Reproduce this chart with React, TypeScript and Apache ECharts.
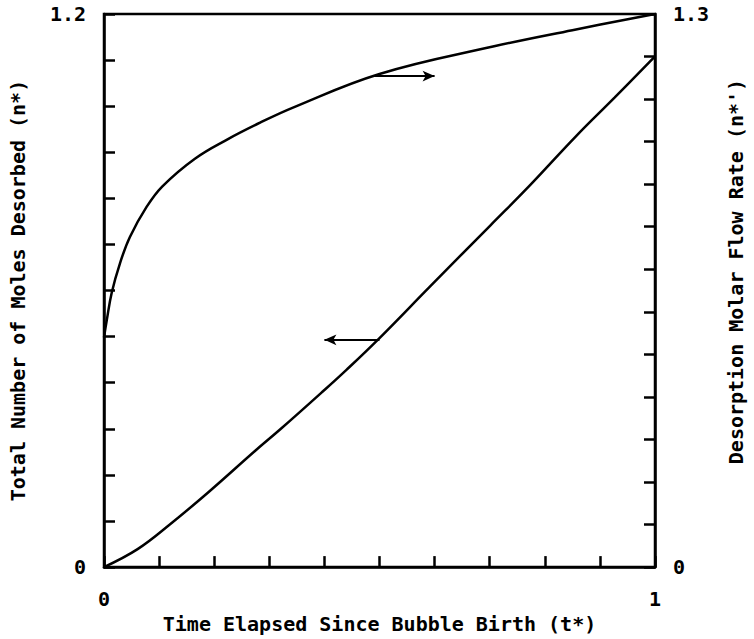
import React, { useEffect, useRef } from "react";
import * as echarts from "echarts";

// Time elapsed since bubble birth (t*)
const molesT = [0, 0.061, 0.12, 0.19, 0.275, 0.32, 0.397, 0.44, 0.5, 0.591, 0.701, 0.772, 0.856, 0.927, 1.0];
// Total number of moles desorbed (n*) — left axis
const molesN = [0, 0.039, 0.093, 0.163, 0.253, 0.299, 0.381, 0.428, 0.497, 0.608, 0.741, 0.827, 0.934, 1.019, 1.108];

const rateT = [0, 0.005, 0.014, 0.029, 0.047, 0.077, 0.106, 0.165, 0.225, 0.284, 0.343, 0.5, 0.708, 0.85, 1.0];
// Desorption molar flow rate (n*') — right axis
const rateN = [0.54, 0.58, 0.645, 0.714, 0.776, 0.846, 0.895, 0.96, 1.006, 1.045, 1.08, 1.159, 1.224, 1.262, 1.3];

// arrows: [x0, y0, x1, y1]
const leftArrow = [0.5, 0.493, 0.4, 0.493];
const rightArrow = [0.49, 1.154, 0.6, 1.154];

const xLabels = ["0", "1"];
const leftLabels = ["0", "1.2"];
const rightLabels = ["0", "1.3"];

const FONT = "DejaVu Sans Mono";
const FS = 20;

function near(v: number, t: number) {
  return Math.abs(v - t) < 1e-6;
}

export default function App() {
  const ref = useRef<HTMLDivElement>(null);
  useEffect(() => {
    if (!ref.current) return;
    const chart = echarts.init(ref.current, null, { renderer: "svg" });
    const axisLine = { show: true, lineStyle: { color: "#000", width: 2.5 } };
    const axisTick = { show: true, inside: true, length: 11, lineStyle: { color: "#000", width: 2.5 } };
    const labelStyle = { color: "#000", fontFamily: FONT, fontWeight: "bold" as const, fontSize: FS };
    const arrowLine = {
      silent: true,
      symbol: ["none", "arrow"],
      symbolSize: [8, 12],
      label: { show: false },
      lineStyle: { color: "#000", width: 2, type: "solid" },
    };
    chart.setOption({
      animation: false,
      backgroundColor: "#fff",
      grid: {
        left: 102,
        right: 90,
        top: 14,
        bottom: 64,
        show: true,
        borderColor: "#000",
        borderWidth: 2.5,
        containLabel: false,
      },
      xAxis: {
        type: "value",
        min: 0,
        max: 1,
        interval: 0.1,
        axisLine,
        axisTick,
        splitLine: { show: false },
        axisLabel: {
          ...labelStyle,
          margin: 22,
          formatter: (v: number) => (near(v, 0) ? xLabels[0] : near(v, 1) ? xLabels[1] : ""),
        },
        name: "Time Elapsed Since Bubble Birth (t*)",
        nameLocation: "middle",
        nameGap: 42,
        nameTextStyle: labelStyle,
      },
      yAxis: [
        {
          type: "value",
          position: "left",
          min: 0,
          max: 1.2,
          interval: 0.1,
          axisLine,
          axisTick,
          splitLine: { show: false },
          axisLabel: {
            ...labelStyle,
            margin: 18,
            formatter: (v: number) => (near(v, 0) ? leftLabels[0] : near(v, 1.2) ? leftLabels[1] : ""),
          },
          name: "Total Number of Moles Desorbed (n*)",
          nameLocation: "middle",
          nameGap: 76,
          nameRotate: 90,
          nameTextStyle: labelStyle,
        },
        {
          type: "value",
          position: "right",
          min: 0,
          max: 1.3,
          interval: 0.1,
          axisLine,
          axisTick,
          splitLine: { show: false },
          axisLabel: {
            ...labelStyle,
            margin: 18,
            formatter: (v: number) => (near(v, 0) ? rightLabels[0] : near(v, 1.3) ? rightLabels[1] : ""),
          },
          name: "Desorption Molar Flow Rate (n*')",
          nameLocation: "middle",
          nameGap: 71,
          nameRotate: 90,
          nameTextStyle: { ...labelStyle, padding: [0, 0, 0, 38] },
        },
      ],
      series: [
        {
          type: "line",
          yAxisIndex: 0,
          data: molesT.map((t, i) => [t, molesN[i]]),
          showSymbol: false,
          smooth: 0.4,
          lineStyle: { color: "#000", width: 2.5 },
          silent: true,
          markLine: {
            ...arrowLine,
            data: [[{ coord: [leftArrow[0], leftArrow[1]] }, { coord: [leftArrow[2], leftArrow[3]] }]],
          },
        },
        {
          type: "line",
          yAxisIndex: 1,
          data: rateT.map((t, i) => [t, rateN[i]]),
          showSymbol: false,
          smooth: 0.4,
          lineStyle: { color: "#000", width: 2.5 },
          silent: true,
          markLine: {
            ...arrowLine,
            data: [[{ coord: [rightArrow[0], rightArrow[1]] }, { coord: [rightArrow[2], rightArrow[3]] }]],
          },
        },
      ],
    });
    return () => chart.dispose();
  }, []);
  return (
    <div
      ref={ref}
      style={{ position: "fixed", left: 0, top: 0, width: 754, height: 639, background: "#fff" }}
    />
  );
}
